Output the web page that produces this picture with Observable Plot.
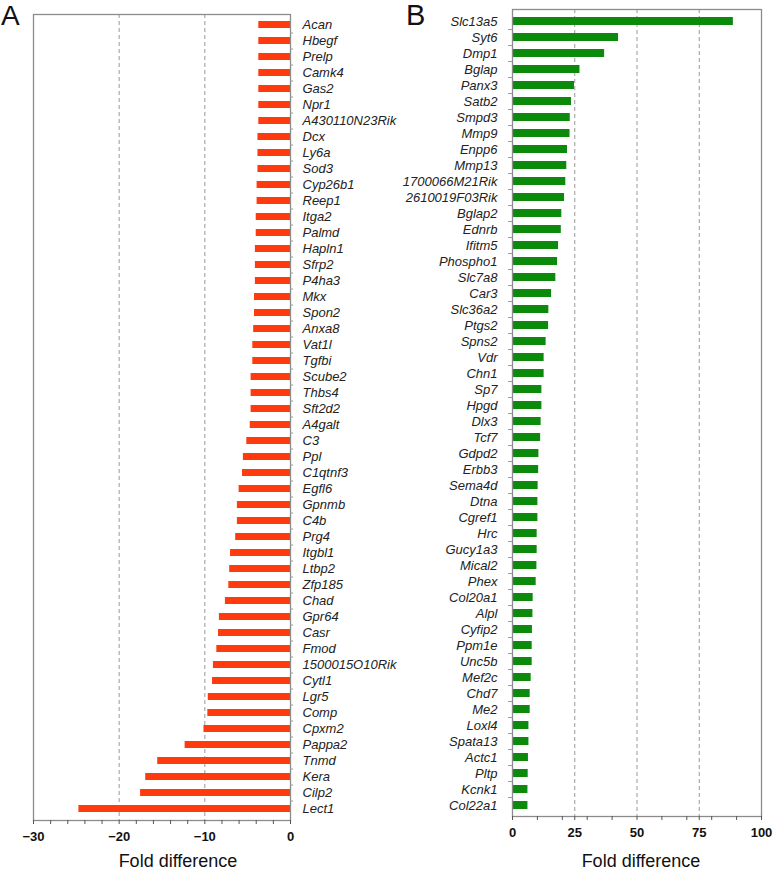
<!DOCTYPE html>
<html>
<head>
<meta charset="utf-8">
<script src="https://cdn.jsdelivr.net/npm/d3@7"></script>
<script src="https://cdn.jsdelivr.net/npm/@observablehq/plot@0.6"></script>
<style>
  body { margin: 0; background: #fff; }
  #wrap { position: relative; width: 774px; height: 871px; overflow: hidden; font-family: "Liberation Sans", Arial, sans-serif; }
  #wrap > div.panel { position: absolute; top: 0; }
  .letter { position: absolute; font-family: "Liberation Sans", Arial, sans-serif; color: #111; line-height: 1.1; }
</style>
</head>
<body>
<div id="wrap">
  <div class="panel" id="pB" style="left:380px"></div>
  <div class="panel" id="pA" style="left:0px"></div>
  <div class="letter" style="left:1px; top:1px; font-size:28px;">A</div>
  <div class="letter" style="left:406px; top:0px; font-size:29px;">B</div>
</div>
<script>
const genesA = ["Acan","Hbegf","Prelp","Camk4","Gas2","Npr1","A430110N23Rik","Dcx","Ly6a","Sod3",
  "Cyp26b1","Reep1","Itga2","Palmd","Hapln1","Sfrp2","P4ha3","Mkx","Spon2","Anxa8",
  "Vat1l","Tgfbi","Scube2","Thbs4","Sft2d2","A4galt","C3","Ppl","C1qtnf3","Egfl6",
  "Gpnmb","C4b","Prg4","Itgbl1","Ltbp2","Zfp185","Chad","Gpr64","Casr","Fmod",
  "1500015O10Rik","Cytl1","Lgr5","Comp","Cpxm2","Pappa2","Tnmd","Kera","Cilp2","Lect1"];
const valuesA = [-3.7,-3.7,-3.7,-3.7,-3.7,-3.7,-3.7,-3.8,-3.8,-3.8,
  -3.9,-3.9,-4.0,-4.0,-4.1,-4.1,-4.1,-4.2,-4.2,-4.3,
  -4.4,-4.4,-4.6,-4.6,-4.6,-4.7,-5.1,-5.5,-5.6,-6.0,
  -6.2,-6.2,-6.4,-7.0,-7.1,-7.2,-7.6,-8.3,-8.4,-8.6,
  -9.0,-9.1,-9.6,-9.65,-10.1,-12.3,-15.5,-16.9,-17.5,-24.7];

const genesB = ["Slc13a5","Syt6","Dmp1","Bglap","Panx3","Satb2","Smpd3","Mmp9","Enpp6","Mmp13",
  "1700066M21Rik","2610019F03Rik","Bglap2","Ednrb","Ifitm5","Phospho1","Slc7a8","Car3","Slc36a2","Ptgs2",
  "Spns2","Vdr","Chn1","Sp7","Hpgd","Dlx3","Tcf7","Gdpd2","Erbb3","Sema4d",
  "Dtna","Cgref1","Hrc","Gucy1a3","Mical2","Phex","Col20a1","Alpl","Cyfip2","Ppm1e",
  "Unc5b","Mef2c","Chd7","Me2","Loxl4","Spata13","Actc1","Pltp","Kcnk1","Col22a1"];
const valuesB = [88.7,42.6,37.0,27.1,24.9,23.7,23.2,23.1,22.1,21.8,
  21.4,20.9,19.8,19.6,18.5,18.1,17.4,15.7,14.6,14.5,
  13.5,12.7,12.7,11.8,11.8,11.5,11.3,10.6,10.5,10.3,
  10.2,10.2,9.9,9.9,9.8,9.5,8.3,8.2,8.0,7.9,
  7.9,7.5,7.1,7.1,6.6,6.6,6.4,6.3,6.2,6.2];

const majorTicksA = [-30, -20, -10, 0];
const minorTicksA = [-28, -26, -24, -22, -18, -16, -14, -12, -8, -6, -4, -2];
const gridA = [-20, -10];
const majorTicksB = [0, 25, 50, 75, 100];
const minorTicksB = [10, 20, 30, 40, 60, 70, 80, 90];
const gridB = [25, 50, 75];
const axisTitle = "Fold difference";

const dataA = genesA.map((g, i) => ({gene: g, value: valuesA[i]}));
const dataB = genesB.map((g, i) => ({gene: g, value: valuesB[i]}));

const font = "'Liberation Sans', Arial, sans-serif";
const frameColor = "#8c8c8c";

// Panel A
{
  const W = 400, H = 871, mt = 14, mb = 51, ml = 33, mr = 110;
  const step = (H - mt - mb) / genesA.length;
  const chart = Plot.plot({
    width: W, height: H, marginTop: mt, marginBottom: mb, marginLeft: ml, marginRight: mr,
    style: {background: "transparent", fontFamily: font, overflow: "visible"},
    x: {domain: [-30, 0]},
    y: {domain: genesA, paddingInner: 0.55, paddingOuter: 0.275},
    marks: [
      Plot.gridX(gridA, {stroke: "#999", strokeOpacity: 1, strokeDasharray: "4,3"}),
      Plot.barX(dataA, {x: "value", y: "gene", fill: "#ff3a0c"}),
      Plot.frame({stroke: frameColor, strokeWidth: 1.3}),
      Plot.ruleY(genesA.slice(0, -1), {y: d => d, x1: 0, x2: 0, insetRight: -3, dy: step / 2, stroke: "#999"}),
      Plot.axisY({anchor: "right", tickSize: 0, tickPadding: 12, fontSize: 13, fontStyle: "italic", fill: "#222", label: null, textAnchor: "start"}),
      Plot.axisX(minorTicksA, {anchor: "bottom", tickSize: 4, tickFormat: () => "", stroke: "#555", label: null}),
      Plot.axisX(majorTicksA, {anchor: "bottom", tickSize: 4, tickPadding: 7, stroke: "#555", fontSize: 13, fontWeight: "bold", fill: "#111", label: null}),
      Plot.text([axisTitle], {frameAnchor: "bottom", dx: 16, dy: 46, lineAnchor: "bottom", fontSize: 18, fill: "#111", text: d => d})
    ]
  });
  document.getElementById("pA").appendChild(chart);
}

// Panel B
{
  const W = 394, H = 871, mt = 9, mb = 55, ml = 132, mr = 13;
  const step = (H - mt - mb) / genesB.length;
  const chart = Plot.plot({
    width: W, height: H, marginTop: mt, marginBottom: mb, marginLeft: ml, marginRight: mr,
    style: {background: "transparent", fontFamily: font, overflow: "visible"},
    x: {domain: [0, 100]},
    y: {domain: genesB, paddingInner: 0.52, paddingOuter: 0.26},
    marks: [
      Plot.gridX(gridB, {stroke: "#999", strokeOpacity: 1, strokeDasharray: "4,3"}),
      Plot.barX(dataB, {x: "value", y: "gene", fill: "#0b8a0b"}),
      Plot.frame({stroke: frameColor, strokeWidth: 1.3}),
      Plot.ruleY(genesB.slice(0, -1), {y: d => d, x1: 0, x2: 0, insetLeft: -4, dy: step / 2, stroke: "#999"}),
      Plot.axisY({anchor: "left", tickSize: 0, tickPadding: 15, fontSize: 13, fontStyle: "italic", fill: "#222", label: null}),
      Plot.axisX(minorTicksB, {anchor: "bottom", tickSize: 4, tickFormat: () => "", stroke: "#555", label: null}),
      Plot.axisX(majorTicksB, {anchor: "bottom", tickSize: 4, tickPadding: 7, stroke: "#555", fontSize: 13, fontWeight: "bold", fill: "#111", label: null}),
      Plot.text([axisTitle], {frameAnchor: "bottom", dx: 4, dy: 50, lineAnchor: "bottom", fontSize: 18, fill: "#111", text: d => d})
    ]
  });
  document.getElementById("pB").appendChild(chart);
}
</script>
</body>
</html>
